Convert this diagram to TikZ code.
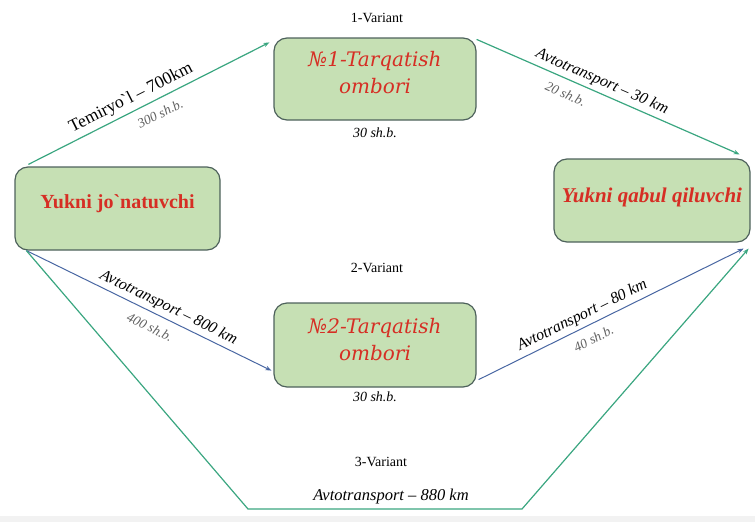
\documentclass[tikz,border=0pt]{standalone}
\usepackage{fontspec}
\setmainfont{Liberation Serif}
\newfontfamily\slabfont{DejaVu Serif}
\usetikzlibrary{arrows.meta}
\definecolor{boxfill}{RGB}{198,224,180}
\definecolor{boxline}{RGB}{78,98,92}
\definecolor{titlered}{RGB}{214,46,36}
\definecolor{routegreen}{RGB}{58,166,128}
\definecolor{routeblue}{RGB}{72,102,162}
\definecolor{notegray}{RGB}{95,95,95}
\begin{document}
\begin{tikzpicture}[x=1pt,y=-1pt,
  box/.style={draw=boxline, fill=boxfill, line width=1.2pt, rounded corners=13pt},
  boxtitle/.style={text=titlered, align=center, inner sep=0pt},
  wtitle/.style={boxtitle, font=\slabfont\itshape\fontsize{20}{27}\selectfont},
  green route/.style={draw=routegreen, line width=1.2pt, -{Stealth[length=6pt,width=4.5pt]}},
  blue route/.style={draw=routeblue, line width=1pt, -{Stealth[length=6pt,width=4.5pt]}},
  route/.style={font=\fontsize{17.5}{19}\selectfont, sloped, inner sep=4pt},
  itroute/.style={route, font=\itshape\fontsize{16}{18}\selectfont, inner sep=3.5pt},
  load/.style={font=\itshape\fontsize{13.5}{15}\selectfont, text=notegray, sloped, inner sep=9pt},
  variant/.style={font=\fontsize{14}{16}\selectfont},
  note/.style={font=\itshape\fontsize{14}{16}\selectfont}]
\useasboundingbox (0,0) rectangle (755,522);
\fill[gray!10] (0,516) rectangle (755,522);

% boxes
\node[box, minimum width=205pt, minimum height=83pt] (snd) at (117.5,208.5) {};
\node[box, minimum width=196pt, minimum height=83pt] (rcv) at (652,200.5) {};
\node[box, minimum width=202pt, minimum height=82pt] (w1) at (375,79) {};
\node[box, minimum width=202pt, minimum height=84pt] (w2) at (375,345) {};

% box titles
\node[boxtitle, font=\bfseries\fontsize{20}{22}\selectfont] (sndt) at ([yshift=5pt]snd.center) {Yukni jo\textasciigrave natuvchi};
\node[boxtitle, font=\bfseries\itshape\fontsize{21}{23}\selectfont] (rcvt) at ([yshift=3.5pt]rcv.center) {Yukni qabul qiluvchi};
\node[wtitle] (w1t) at ([yshift=6.5pt]w1.center) {№1-Tarqatish\\ombori};
\node[wtitle] (w2t) at ([yshift=5pt]w2.center) {№2-Tarqatish\\ombori};

% variant headings and warehouse notes
\node[variant] (v1) at (377,18) {1-Variant};
\node[variant] (v2) at (377,268) {2-Variant};
\node[variant] (v3) at (381,462) {3-Variant};
\node[note] (n1) at (375,133) {30 sh.b.};
\node[note] (n2) at (375,397) {30 sh.b.};

% variant 1
\draw[green route] ([xshift=14pt,yshift=2pt]snd.north west) -- ([xshift=-4pt,yshift=-5pt]w1.north west)
  node[route, pos=0.45, above] {Temiryo\textasciigrave l -- 700km}
  node[load, pos=0.52, below] {300 sh.b.};
\draw[green route] ([yshift=-2pt]w1.north east) -- ([xshift=-11pt,yshift=4pt]rcv.north east)
  node[itroute, pos=0.46, above] {Avtotransport -- 30 km}
  node[load, pos=0.36, below] {20 sh.b.};

% variant 2
\draw[blue route] ([xshift=12pt]snd.south west) -- ([xshift=-2pt,yshift=17pt]w2.south west)
  node[itroute, pos=0.56, above] {Avtotransport -- 800 km}
  node[load, pos=0.53, below] {400 sh.b.};
\draw[blue route] ([xshift=2pt,yshift=8pt]w2.south east) -- ([xshift=-7pt,yshift=-6pt]rcv.south east)
  node[itroute, pos=0.41, above] {Avtotransport -- 80 km}
  node[load, pos=0.41, below] {40 sh.b.};

% variant 3
\coordinate (c3l) at (248,509);
\coordinate (c3r) at (522,509);
\draw[green route] ([xshift=12pt]snd.south west) -- (c3l) -- (c3r) -- ([xshift=-2pt,yshift=-6pt]rcv.south east);
\node[note, font=\itshape\fontsize{16.5}{18}\selectfont] (r3) at (391,497) {Avtotransport -- 880 km};
\end{tikzpicture}
\end{document}
